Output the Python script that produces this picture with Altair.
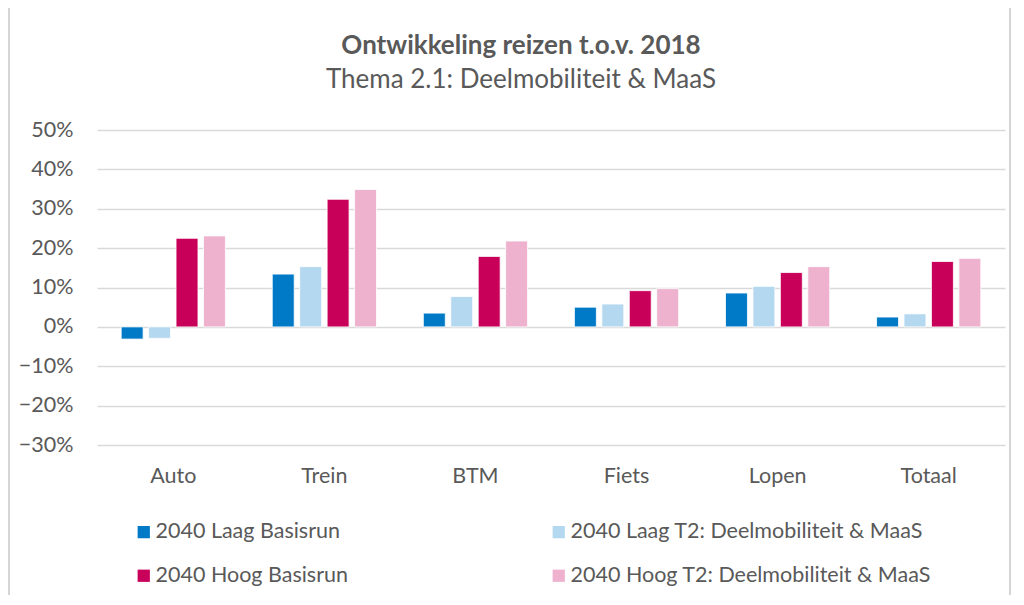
import altair as alt
import pandas as pd

categories = ["Auto", "Trein", "BTM", "Fiets", "Lopen", "Totaal"]
series = ["2040 Laag Basisrun", "2040 Laag T2: Deelmobiliteit & MaaS",
          "2040 Hoog Basisrun", "2040 Hoog T2: Deelmobiliteit & MaaS"]
laag_basis = [-0.031, 0.134, 0.035, 0.050, 0.086, 0.025]
laag_t2 = [-0.029, 0.153, 0.077, 0.058, 0.103, 0.033]
hoog_basis = [0.225, 0.324, 0.179, 0.092, 0.138, 0.166]
hoog_t2 = [0.231, 0.349, 0.218, 0.097, 0.153, 0.174]
colors = ["#0079C6", "#B4D8EF", "#C8005A", "#EEB2CF"]
title_lines = ["Ontwikkeling reizen t.o.v. 2018", "Thema 2.1: Deelmobiliteit & MaaS"]

rows = []
for s, vals in zip(series, [laag_basis, laag_t2, hoog_basis, hoog_t2]):
    for c, v in zip(categories, vals):
        rows.append({"cat": c, "series": s, "value": v})
df = pd.DataFrame(rows)

# legend is laid out column-wise: order so rows read Laag, Laag / Hoog, Hoog
legend_order = [series[0], series[2], series[1], series[3]]
legend_colors = [colors[0], colors[2], colors[1], colors[3]]

FONT = "Lato"
GREY = "#595959"
LBL = 21.5

bars = alt.Chart(df).mark_bar(stroke="white", strokeWidth=0.8).encode(
    x=alt.X("cat:N", sort=categories, title=None,
            scale=alt.Scale(paddingInner=0.31, paddingOuter=0.16),
            axis=alt.Axis(labelAngle=0, labelFontSize=LBL, labelColor=GREY, labelFont=FONT,
                          ticks=False, domain=False, labelPadding=20)),
    xOffset=alt.XOffset("series:N", sort=series, scale=alt.Scale(paddingInner=0.2)),
    y=alt.Y("value:Q", title=None,
            scale=alt.Scale(domain=[-0.3, 0.5], nice=False),
            axis=alt.Axis(format=".0%", values=[-0.3, -0.2, -0.1, 0, 0.1, 0.2, 0.3, 0.4, 0.5],
                          labelFontSize=LBL, labelColor=GREY, labelFont=FONT,
                          ticks=False, domain=False, labelPadding=24,
                          gridColor="#D9D9D9", gridWidth=1.5)),
    color=alt.Color("series:N", sort=legend_order, title=None,
                    scale=alt.Scale(domain=legend_order, range=legend_colors),
                    legend=alt.Legend(orient="none", legendX=36, legendY=391, columns=2,
                                      symbolType="square", symbolSize=150, symbolStrokeWidth=0,
                                      labelFontSize=LBL, labelColor=GREY, labelFont=FONT,
                                      columnPadding=200, rowPadding=21, labelOffset=1,
                                      labelLimit=500)),
)

frame = alt.Chart(pd.DataFrame({"a": [0]})).mark_rect(
    filled=False, stroke="#C8C8C8", strokeWidth=1.5
).encode(x=alt.value(-88), x2=alt.value(913), y=alt.value(-125), y2=alt.value(480))

title_df = pd.DataFrame({"t": title_lines, "w": ["bold", "normal"], "y": [0, 1]})
title = alt.Chart(pd.DataFrame({"t": [title_lines[0]]})).mark_text(
    font=FONT, fontSize=26, fontWeight="bold", color=GREY, baseline="middle", align="center"
).encode(text="t:N", x=alt.value(424), y=alt.value(-84))
subtitle = alt.Chart(pd.DataFrame({"t": [title_lines[1]]})).mark_text(
    font=FONT, fontSize=26, color=GREY, baseline="middle", align="center"
).encode(text="t:N", x=alt.value(424), y=alt.value(-50))

chart = alt.layer(frame, bars, title, subtitle).properties(
    width=908, height=315,
    autosize=alt.AutoSizeParams(type="none"),
    padding={"left": 89, "top": 122, "right": 11, "bottom": 150},
).configure(background="white").configure_view(stroke=None)

chart.save("out.html", embed_options={"renderer": "svg", "actions": False})
